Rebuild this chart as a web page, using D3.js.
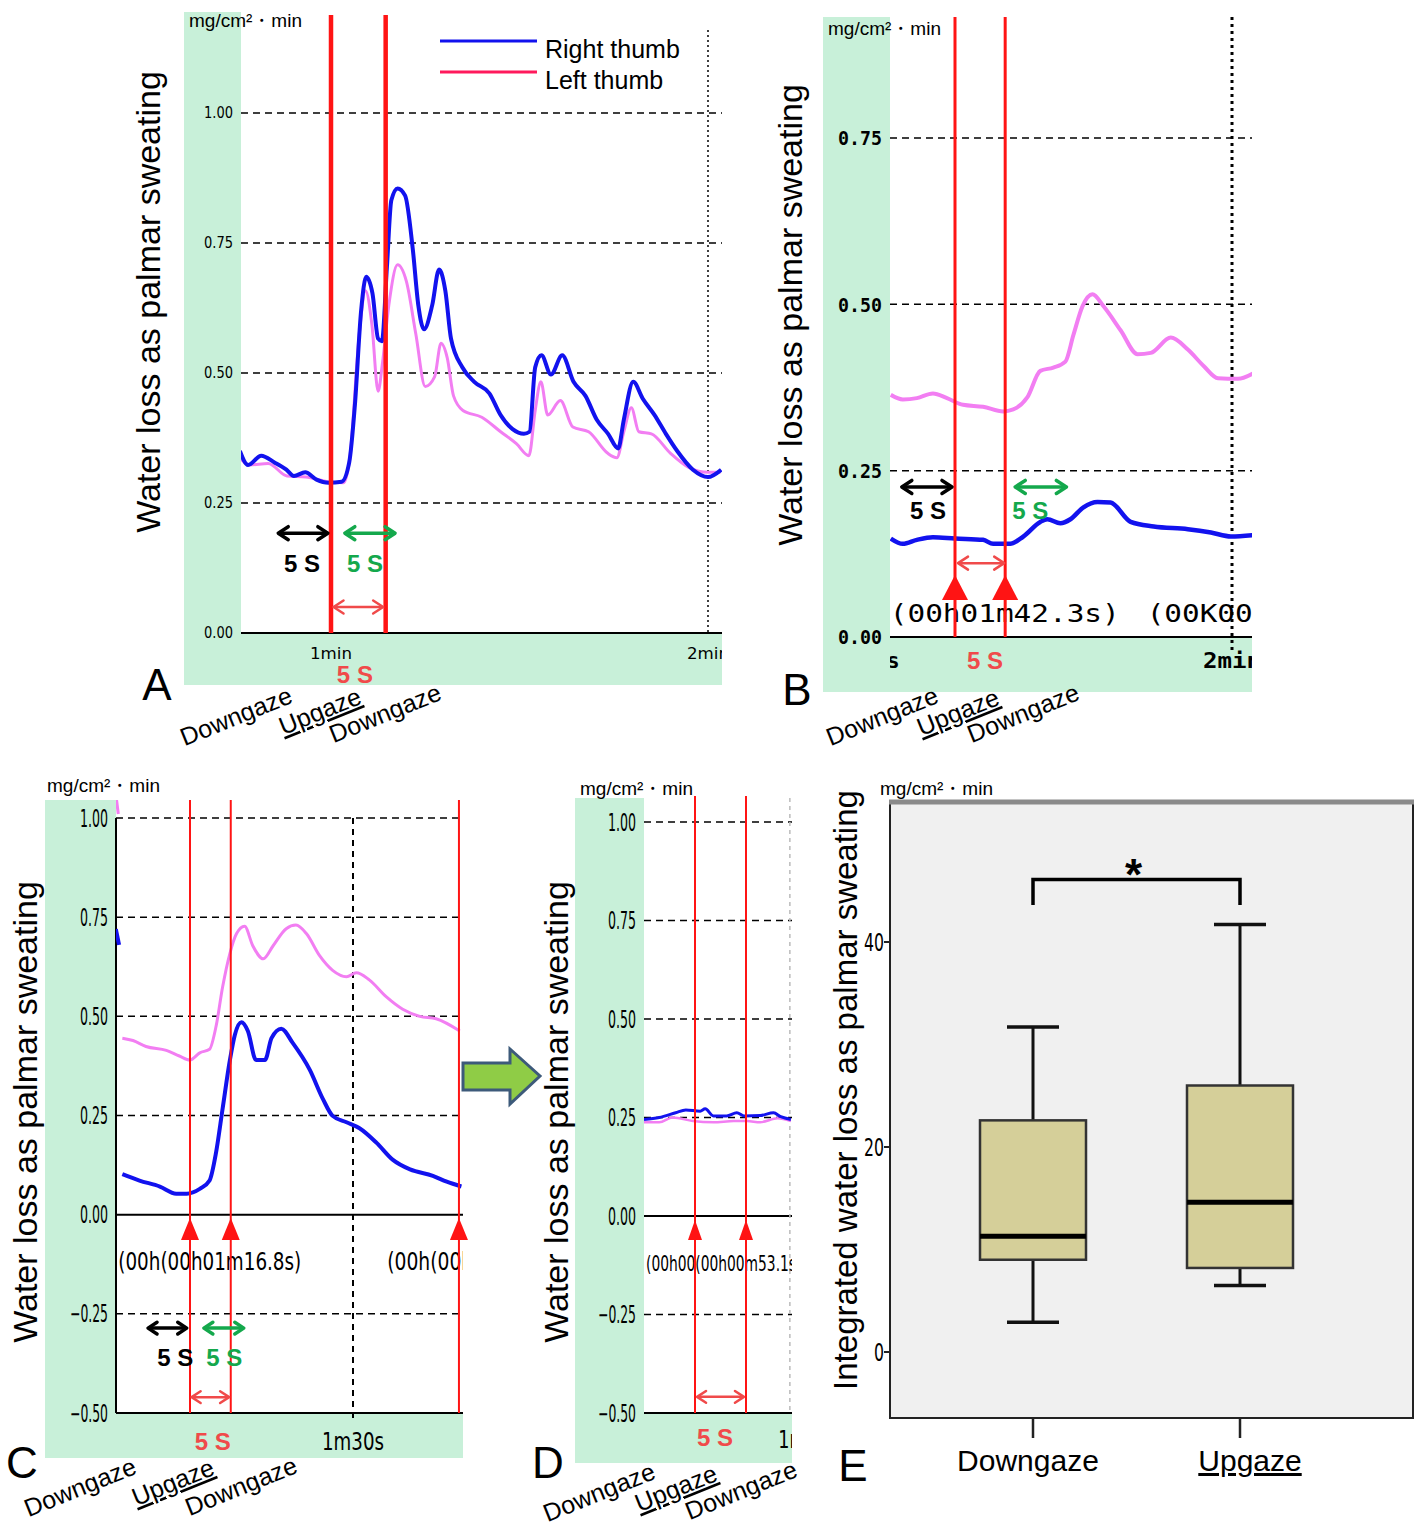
<!DOCTYPE html>
<html lang="en">
<head>
<meta charset="UTF-8">
<title>Palmar sweating: downgaze vs upgaze</title>
<script src="https://d3js.org/d3.v7.min.js"></script>
<style>
  body { margin: 0; background: #fff; }
  svg { display: block; font-family: Arial, "Liberation Sans", sans-serif; }
</style>
</head>
<body>
<svg id="fig" width="1417" height="1527"></svg>
<script>
// ---------- data: time in s, water loss in mg/cm2·min ----------
// panel A
const aRightT = [45.5,46.8,48.9,51.0,52.9,54.1,55.9,57.7,59.6,61.7,62.9,63.8,64.8,65.6,66.6,67.5,68.1,68.9,69.6,70.6,71.8,73.0,73.9,74.8,76.1,77.2,78.2,79.1,80.9,82.8,85.2,87.0,88.9,90.7,91.6,92.5,93.5,95.0,96.8,98.6,100.5,102.3,104.1,105.7,106.6,108.1,109.6,111.5,113.3,115.1,117.6,120.0,122.1];
const aRightV = [0.350,0.323,0.341,0.328,0.314,0.302,0.309,0.295,0.289,0.291,0.328,0.438,0.621,0.685,0.653,0.566,0.561,0.704,0.832,0.855,0.841,0.740,0.630,0.584,0.630,0.699,0.658,0.566,0.511,0.483,0.461,0.419,0.392,0.383,0.387,0.511,0.534,0.497,0.534,0.483,0.456,0.410,0.383,0.355,0.410,0.483,0.451,0.419,0.383,0.350,0.314,0.300,0.314];
const aLeftT = [45.5,47.0,50.0,53.0,56.0,59.6,62.0,63.0,64.5,65.5,66.5,67.5,68.2,69.2,70.6,72.0,73.5,75.0,76.5,77.5,78.5,79.5,81.0,84.0,87.0,89.5,91.5,92.5,93.4,94.5,96.5,98.5,101.0,104.0,105.5,106.6,107.8,109.0,111.0,114.0,117.0,120.0,122.0];
const aLeftV = [0.337,0.323,0.326,0.302,0.300,0.291,0.289,0.337,0.575,0.658,0.594,0.465,0.520,0.630,0.708,0.676,0.575,0.474,0.493,0.557,0.529,0.456,0.428,0.415,0.387,0.364,0.341,0.428,0.483,0.419,0.447,0.396,0.387,0.346,0.337,0.387,0.433,0.387,0.383,0.346,0.318,0.309,0.309];
const aTicks = [0, 0.25, 0.5, 0.75, 1.0];
const aMarks = [60, 68.7];

// panel B
const bRightT = [86.0,87.2,88.6,90.2,92.4,95.2,96.2,97.9,99.2,100.9,101.6,102.9,103.9,105.2,106.6,107.9,109.9,112.2,115.6,117.9,119.9,122.1];
const bRightV = [0.148,0.140,0.146,0.150,0.148,0.146,0.140,0.140,0.151,0.173,0.177,0.171,0.177,0.195,0.203,0.202,0.173,0.166,0.162,0.157,0.151,0.153];
const bLeftT = [86.0,87.2,88.6,90.2,91.6,93.2,95.2,97.2,98.2,99.6,100.9,102.2,103.4,104.2,105.1,106.1,107.2,108.9,110.6,111.9,113.9,115.6,117.2,118.6,120.6,122.1];
const bLeftV = [0.364,0.357,0.359,0.366,0.359,0.349,0.346,0.339,0.342,0.360,0.400,0.405,0.414,0.454,0.497,0.515,0.497,0.461,0.425,0.427,0.450,0.432,0.407,0.389,0.388,0.396];
const bTicks = [0, 0.25, 0.5, 0.75];
const bMarks = [92.4, 97.4];

// panel C
const cRightT = [61.7,63.8,66.3,68.3,69.6,71.2,72.4,73.2,74.0,74.9,75.5,76.3,77.1,78.1,79.2,80.0,81.2,82.6,84.7,86.3,87.5,89.2,90.8,92.9,94.9,97.0,99.8,101.5,103.3];
const cRightV = [0.102,0.086,0.071,0.053,0.053,0.065,0.086,0.157,0.267,0.390,0.453,0.485,0.463,0.390,0.390,0.445,0.469,0.433,0.365,0.292,0.249,0.233,0.218,0.181,0.138,0.114,0.098,0.083,0.071];
const cLeftT = [61.7,63.0,64.6,67.1,68.7,70.0,71.2,72.4,73.2,74.0,74.9,75.7,76.7,77.7,79.0,80.2,81.8,83.0,84.3,85.9,87.5,89.2,90.4,92.0,94.1,96.1,98.2,100.2,103.1];
const cLeftV = [0.445,0.439,0.424,0.414,0.400,0.390,0.408,0.417,0.475,0.574,0.659,0.708,0.727,0.678,0.645,0.678,0.721,0.730,0.708,0.653,0.616,0.600,0.610,0.592,0.549,0.518,0.500,0.494,0.463];
const cRightStubT = [60.9, 61.3];
const cRightStubV = [0.72, 0.68];
const cLeftStubT = [60.9, 61.2];
const cLeftStubV = [1.06, 1.01];
const cTicks = [-0.5, -0.25, 0, 0.25, 0.5, 0.75, 1.0];
const cMarks = [70, 75, 103];

// panel D
const dRightT = [43.1,44.6,46.2,47.2,48.6,49.1,49.9,51.2,52.2,52.9,54.5,55.8,56.5,57.5];
const dRightV = [0.245,0.250,0.262,0.269,0.266,0.272,0.254,0.254,0.262,0.254,0.255,0.262,0.252,0.245];
const dLeftT = [43.1,44.6,45.9,47.9,49.9,51.9,53.2,54.5,56.2,57.5];
const dLeftV = [0.238,0.238,0.250,0.241,0.238,0.241,0.241,0.238,0.248,0.241];
const dMarks = [48.1, 53.1];

// panel E (box plot)
const eCats = ["Downgaze", "Upgaze"];
const eLow = [2.9, 6.5];
const eQ1 = [9.0, 8.2];
const eMed = [11.3, 14.6];
const eQ3 = [22.6, 26.0];
const eHigh = [31.7, 41.7];
const eTicks = [0, 20, 40];

// ---------- colours ----------
const GREEN = "#c8f0d9";
const BLUE = "#1212ee";
const PINK = "#f27ef2";
const RED = "#ff1414";
const ARED = "#f04a4a";
const AGREEN = "#14a84c";

const svg = d3.select("#fig");
const defs = svg.append("defs");

function rectClip(id, x0, y0, x1, y1) {
  defs.append("clipPath").attr("id", id).append("rect")
    .attr("x", x0).attr("y", y0).attr("width", x1 - x0).attr("height", y1 - y0);
  return `url(#${id})`;
}

function dblArrow(g, x0, x1, yy, color, sw, head) {
  g.append("line").attr("x1", x0 + 1).attr("x2", x1 - 1).attr("y1", yy).attr("y2", yy)
    .attr("stroke", color).attr("stroke-width", sw);
  g.append("path")
    .attr("d", `M${x0 + head},${yy - head * 0.65}L${x0},${yy}L${x0 + head},${yy + head * 0.65}` +
               `M${x1 - head},${yy - head * 0.65}L${x1},${yy}L${x1 - head},${yy + head * 0.65}`)
    .attr("fill", "none").attr("stroke", color).attr("stroke-width", sw)
    .attr("stroke-linecap", "round").attr("stroke-linejoin", "round");
}

// unit label "mg/cm²・min"
function unitLabel(g, x, y) {
  g.append("text").attr("x", x).attr("y", y).attr("font-size", 19).text("mg/cm²・min");
}

function tracePanel(p) {
  const { x, y, plot, bg } = p;
  const g = svg.append("g");

  g.append("rect").attr("x", bg.x0).attr("y", bg.y0)
    .attr("width", bg.x1 - bg.x0).attr("height", bg.y1 - bg.y0).attr("fill", GREEN);
  g.append("rect").attr("x", plot.x0).attr("y", bg.y0)
    .attr("width", plot.x1 - plot.x0).attr("height", plot.y1 - bg.y0).attr("fill", "#fff");

  const clipPlot = rectClip("cp" + p.id, plot.x0, bg.y0, plot.x1, plot.y1);
  const clipText = rectClip("ct" + p.id, plot.x0, bg.y0, plot.x1, bg.y1);

  // horizontal grid
  g.append("g").selectAll("line").data(p.yTicks).join("line")
    .attr("x1", plot.x0).attr("x2", plot.x1)
    .attr("y1", d => y(d)).attr("y2", d => y(d))
    .attr("stroke", "#000")
    .attr("stroke-width", d => p.solidY.includes(d) ? 2 : 1.5)
    .attr("stroke-dasharray", d => p.solidY.includes(d) ? null : "7,5");

  if (p.yAxisLine) {
    g.append("line").attr("x1", plot.x0).attr("x2", plot.x0)
      .attr("y1", y(y.domain()[1])).attr("y2", plot.y1)
      .attr("stroke", "#000").attr("stroke-width", 2);
  }

  // vertical time grid
  g.append("g").selectAll("line").data(p.vGrid).join("line")
    .attr("x1", d => x(d)).attr("x2", d => x(d))
    .attr("y1", p.vGridY[0]).attr("y2", p.vGridY[1])
    .attr("stroke", p.vGridColor || "#000")
    .attr("stroke-width", p.vGridW)
    .attr("stroke-dasharray", p.vGridDash);

  // y tick labels
  g.append("g").selectAll("text").data(p.yTicks).join("text")
    .attr("x", plot.x0 - p.tickPad).attr("y", d => y(d)).attr("dy", "0.36em")
    .attr("text-anchor", "end")
    .attr("font-family", p.tickFont).attr("font-size", p.tickSize)
    .attr("font-weight", p.tickWeight || "normal")
    .attr("textLength", d => p.tickLen(d)).attr("lengthAdjust", "spacingAndGlyphs")
    .text(d3.format(".2f"));

  // x tick labels (clipped like the recorder screen)
  g.append("g").attr("clip-path", clipText).selectAll("text").data(p.xTicks).join("text")
    .attr("x", d => x(d.t)).attr("y", p.xTickY)
    .attr("text-anchor", "middle")
    .attr("font-family", p.xTickFont).attr("font-size", p.xTickSize)
    .attr("font-weight", p.xTickWeight || "normal")
    .attr("textLength", d => d.len).attr("lengthAdjust", "spacingAndGlyphs")
    .text(d => d.label);

  // time stamps
  if (p.stamps) {
    g.append("g").attr("clip-path", clipPlot).selectAll("text").data(p.stamps).join("text")
      .attr("x", d => x(d.t)).attr("y", d => y(d.v))
      .attr("font-family", p.stampFont).attr("font-size", p.stampSize)
      .attr("textLength", d => d.len).attr("lengthAdjust", "spacingAndGlyphs")
      .text(d => d.text);
  }

  // traces
  const line = d3.line().x(d => x(d[0])).y(d => y(d[1])).curve(d3.curveMonotoneX);
  const sg = g.append("g").attr("clip-path", clipPlot);
  p.series.forEach(s => {
    sg.append("path").datum(d3.zip(s.t, s.v)).attr("d", line)
      .attr("fill", "none").attr("stroke", s.color).attr("stroke-width", s.w)
      .attr("stroke-linejoin", "round");
  });

  // event markers
  g.append("g").selectAll("line").data(p.marks).join("line")
    .attr("x1", d => x(d)).attr("x2", d => x(d))
    .attr("y1", p.markTop).attr("y2", plot.y1)
    .attr("stroke", RED).attr("stroke-width", p.markW);

  if (p.tri) {
    g.append("g").selectAll("path").data(p.marks).join("path")
      .attr("d", d => {
        const cx = x(d), yb = y(p.tri.base), h = p.tri.h, w = p.tri.w / 2;
        return `M${cx},${yb - h}L${cx + w},${yb}L${cx - w},${yb}Z`;
      })
      .attr("fill", RED);
  }

  // 5 s arrows
  const ag = g.append("g");
  p.arrows.forEach(a => dblArrow(ag, x(a.t0), x(a.t1), y(a.v), a.color, a.sw, a.head));
  g.append("g").selectAll("text").data(p.fiveS).join("text")
    .attr("x", d => x(d.t)).attr("y", d => y(d.v))
    .attr("text-anchor", "middle")
    .attr("font-size", p.fiveSize).attr("font-weight", "bold")
    .attr("fill", d => d.color)
    .text("5 S");

  // axis title and unit
  g.append("text")
    .attr("transform", `translate(${p.yLabel[0]},${p.yLabel[1]}) rotate(-90)`)
    .attr("text-anchor", "middle").attr("dy", "0.35em")
    .attr("font-size", 34).text("Water loss as palmar sweating");
  unitLabel(g, p.unit[0], p.unit[1]);

  // panel letter
  g.append("text").attr("x", p.letter[0]).attr("y", p.letter[1])
    .attr("text-anchor", "middle").attr("font-size", 44).text(p.id);

  // gaze labels
  g.append("g").selectAll("text").data(p.gaze).join("text")
    .attr("transform", d => `translate(${d.cx},${d.cy}) rotate(-22)`)
    .attr("text-anchor", "middle").attr("dy", "0.35em")
    .attr("font-size", 25)
    .style("text-decoration", d => d.u ? "underline" : null)
    .text(d => d.text);

  return g;
}

// ---------- panel A ----------
const xA = d3.scaleLinear().domain([60, 120]).range([331, 708]);
const yA = d3.scaleLinear().domain([0, 1]).range([633, 113]);
const gA = tracePanel({
  id: "A", x: xA, y: yA,
  plot: { x0: 241, x1: 722, y1: 633 }, bg: { x0: 184, y0: 12, x1: 722, y1: 685 },
  yTicks: aTicks, solidY: [0],
  vGrid: [60, 120], vGridY: [30, 633], vGridW: 1.5, vGridDash: "2,3",
  tickPad: 8, tickFont: "DejaVu Sans Condensed", tickSize: 15, tickLen: () => 29,
  xTicks: [{ t: 60, label: "1min", len: 42 }, { t: 120, label: "2min", len: 42 }],
  xTickY: 659, xTickFont: "DejaVu Sans Condensed", xTickSize: 16,
  series: [
    { t: aLeftT, v: aLeftV, color: PINK, w: 3 },
    { t: aRightT, v: aRightV, color: BLUE, w: 4 }
  ],
  marks: aMarks, markTop: 15, markW: 4.5,
  arrows: [
    { t0: 51.6, t1: 59.5, v: 0.192, color: "#000", sw: 3.5, head: 10 },
    { t0: 62.2, t1: 70.2, v: 0.192, color: AGREEN, sw: 3.5, head: 10 },
    { t0: 60.4, t1: 68.3, v: 0.05, color: ARED, sw: 2.5, head: 10 }
  ],
  fiveS: [
    { t: 55.4, v: 0.117, color: "#000" },
    { t: 65.4, v: 0.117, color: AGREEN },
    { t: 63.8, v: -0.096, color: ARED }
  ],
  fiveSize: 24,
  yLabel: [148, 302], unit: [189, 27], letter: [157, 700],
  gaze: [
    { cx: 236, cy: 716, text: "Downgaze" },
    { cx: 320, cy: 711, text: "Upgaze", u: true },
    { cx: 385, cy: 713, text: "Downgaze" }
  ]
});
// legend
const legA = gA.append("g");
[{ label: "Right thumb", color: BLUE, yy: 41 }, { label: "Left thumb", color: "#ff1a5c", yy: 72 }].forEach(l => {
  legA.append("line").attr("x1", 440).attr("x2", 537).attr("y1", l.yy).attr("y2", l.yy)
    .attr("stroke", l.color).attr("stroke-width", 3);
  legA.append("text").attr("x", 545).attr("y", l.yy + 17).attr("font-size", 25).text(l.label);
});

// ---------- panel B ----------
const xB = d3.scaleLinear().domain([92.4, 120]).range([955, 1232]);
const yB = d3.scaleLinear().domain([0, 0.75]).range([637, 138]);
tracePanel({
  id: "B", x: xB, y: yB,
  plot: { x0: 890, x1: 1252, y1: 637 }, bg: { x0: 823, y0: 17, x1: 1252, y1: 692 },
  yTicks: bTicks, solidY: [0],
  vGrid: [120], vGridY: [17, 652], vGridW: 3, vGridDash: "3,4",
  tickPad: 8, tickFont: "DejaVu Sans Mono", tickSize: 20, tickWeight: "bold", tickLen: () => 44,
  xTicks: [{ t: 83.6, label: "1m30s", len: 66 }, { t: 120, label: "2min", len: 58 }],
  xTickY: 668, xTickFont: "DejaVu Sans Mono", xTickSize: 22, xTickWeight: "bold",
  stamps: [
    { t: 85.9, v: 0.0225, text: "(00h01m42.3s)", len: 230 },
    { t: 111.5, v: 0.0225, text: "(00K00", len: 106 }
  ],
  stampFont: "DejaVu Sans Mono", stampSize: 24,
  series: [
    { t: bLeftT, v: bLeftV, color: PINK, w: 4 },
    { t: bRightT, v: bRightV, color: BLUE, w: 4.5 }
  ],
  marks: bMarks, markTop: 17, markW: 3,
  tri: { base: 0.0556, h: 25, w: 26 },
  arrows: [
    { t0: 87.1, t1: 92.1, v: 0.2255, color: "#000", sw: 3.5, head: 10 },
    { t0: 98.4, t1: 103.5, v: 0.2255, color: AGREEN, sw: 3.5, head: 10 },
    { t0: 92.7, t1: 97.3, v: 0.111, color: ARED, sw: 2.5, head: 10 }
  ],
  fiveS: [
    { t: 89.7, v: 0.177, color: "#000" },
    { t: 99.9, v: 0.177, color: AGREEN },
    { t: 95.4, v: -0.048, color: ARED }
  ],
  fiveSize: 24,
  yLabel: [790, 315], unit: [828, 35], letter: [797, 705],
  gaze: [
    { cx: 882, cy: 716, text: "Downgaze" },
    { cx: 958, cy: 712, text: "Upgaze", u: true },
    { cx: 1023, cy: 713, text: "Downgaze" }
  ]
});

// ---------- panel C ----------
const xC = d3.scaleLinear().domain([70, 90]).range([190, 353]);
const yC = d3.scaleLinear().domain([-0.5, 1]).range([1413, 818]);
tracePanel({
  id: "C", x: xC, y: yC,
  plot: { x0: 116, x1: 463, y1: 1413 }, bg: { x0: 45, y0: 800, x1: 463, y1: 1458 },
  yTicks: cTicks, solidY: [0, -0.5], yAxisLine: true,
  vGrid: [90], vGridY: [818, 1422], vGridW: 2, vGridDash: "6,5",
  tickPad: 8, tickFont: "DejaVu Sans Condensed", tickSize: 24, tickLen: d => d < 0 ? 38 : 28,
  xTicks: [{ t: 90, label: "1m30s", len: 62 }],
  xTickY: 1450, xTickFont: "DejaVu Sans Condensed", xTickSize: 24,
  stamps: [
    { t: 61.2, v: -0.139, text: "(00h(00h01m16.8s)", len: 183 },
    { t: 94.2, v: -0.139, text: "(00h(00h", len: 86 }
  ],
  stampFont: "DejaVu Sans Condensed", stampSize: 25,
  series: [
    { t: cLeftT, v: cLeftV, color: PINK, w: 3 },
    { t: cLeftStubT, v: cLeftStubV, color: PINK, w: 3 },
    { t: cRightT, v: cRightV, color: BLUE, w: 4 },
    { t: cRightStubT, v: cRightStubV, color: BLUE, w: 4 }
  ],
  marks: cMarks, markTop: 800, markW: 2,
  tri: { base: -0.064, h: 22, w: 18 },
  arrows: [
    { t0: 64.85, t1: 69.6, v: -0.286, color: "#000", sw: 3.5, head: 9 },
    { t0: 71.7, t1: 76.6, v: -0.286, color: AGREEN, sw: 3.5, head: 9 },
    { t0: 70.2, t1: 74.8, v: -0.46, color: ARED, sw: 2.5, head: 9 }
  ],
  fiveS: [
    { t: 68.2, v: -0.381, color: "#000" },
    { t: 74.2, v: -0.381, color: AGREEN },
    { t: 72.8, v: -0.593, color: ARED }
  ],
  fiveSize: 24,
  yLabel: [25, 1112], unit: [47, 792], letter: [22, 1478],
  gaze: [
    { cx: 80, cy: 1487, text: "Downgaze" },
    { cx: 173, cy: 1482, text: "Upgaze", u: true },
    { cx: 241, cy: 1486, text: "Downgaze" }
  ]
});

// ---------- panel D ----------
const xD = d3.scaleLinear().domain([48.1, 53.1]).range([695, 746]);
const yD = d3.scaleLinear().domain([-0.5, 1]).range([1413, 822]);
tracePanel({
  id: "D", x: xD, y: yD,
  plot: { x0: 644, x1: 792, y1: 1413 }, bg: { x0: 575, y0: 798, x1: 792, y1: 1463 },
  yTicks: cTicks, solidY: [0, -0.5],
  vGrid: [57.4], vGridY: [798, 1413], vGridW: 1.5, vGridDash: "4,4", vGridColor: "#bbb",
  tickPad: 8, tickFont: "DejaVu Sans Condensed", tickSize: 24, tickLen: d => d < 0 ? 38 : 28,
  xTicks: [{ t: 59.2, label: "1m00s", len: 60 }],
  xTickY: 1448, xTickFont: "DejaVu Sans Condensed", xTickSize: 24,
  stamps: [{ t: 43.3, v: -0.139, text: "(00h00(00h00m53.1s", len: 150 }],
  stampFont: "DejaVu Sans Condensed", stampSize: 22,
  series: [
    { t: dLeftT, v: dLeftV, color: PINK, w: 2.5 },
    { t: dRightT, v: dRightV, color: BLUE, w: 3 }
  ],
  marks: dMarks, markTop: 796, markW: 2,
  tri: { base: -0.061, h: 20, w: 14 },
  arrows: [{ t0: 48.3, t1: 52.9, v: -0.459, color: ARED, sw: 2.5, head: 9 }],
  fiveS: [{ t: 50.06, v: -0.584, color: ARED }],
  fiveSize: 24,
  yLabel: [556, 1112], unit: [580, 795], letter: [548, 1478],
  gaze: [
    { cx: 599, cy: 1492, text: "Downgaze" },
    { cx: 676, cy: 1488, text: "Upgaze", u: true },
    { cx: 741, cy: 1490, text: "Downgaze" }
  ]
});

// block arrow C -> D
svg.append("path")
  .attr("d", "M463,1063L510,1063L510,1049L540,1076L510,1104L510,1090L463,1090Z")
  .attr("fill", "#8fcc46").attr("stroke", "#3d5a7a").attr("stroke-width", 3)
  .attr("stroke-linejoin", "miter");

// ---------- panel E: box plot ----------
const eBox = { x0: 890, x1: 1413, y0: 802, y1: 1418 };
const xE = d3.scalePoint().domain(eCats).range([1033, 1240]);
const yE = d3.scaleLinear().domain([0, 40]).range([1352, 942]);
const gE = svg.append("g");
gE.append("rect").attr("x", eBox.x0).attr("y", eBox.y0)
  .attr("width", eBox.x1 - eBox.x0).attr("height", eBox.y1 - eBox.y0)
  .attr("fill", "#f0f0f0").attr("stroke", "#222").attr("stroke-width", 2);
gE.append("line").attr("x1", eBox.x0 - 1).attr("x2", eBox.x1 + 1)
  .attr("y1", eBox.y0).attr("y2", eBox.y0).attr("stroke", "#8a8a8a").attr("stroke-width", 5);

// y ticks
gE.append("g").selectAll("line").data(eTicks).join("line")
  .attr("x1", eBox.x0 - 6).attr("x2", eBox.x0).attr("y1", d => yE(d)).attr("y2", d => yE(d))
  .attr("stroke", "#222").attr("stroke-width", 2);
gE.append("g").selectAll("text").data(eTicks).join("text")
  .attr("x", eBox.x0 - 6).attr("y", d => yE(d)).attr("dy", "0.36em")
  .attr("text-anchor", "end").attr("font-family", "DejaVu Sans Condensed").attr("font-size", 25)
  .attr("textLength", d => String(d).length * 10).attr("lengthAdjust", "spacingAndGlyphs")
  .text(d => d);

// x ticks
gE.append("g").selectAll("line").data(eCats).join("line")
  .attr("x1", d => xE(d)).attr("x2", d => xE(d)).attr("y1", eBox.y1).attr("y2", eBox.y1 + 20)
  .attr("stroke", "#222").attr("stroke-width", 2.5);
gE.append("g").selectAll("text").data(eCats).join("text")
  .attr("x", (d, i) => xE(d) + (i === 0 ? -5 : 10)).attr("y", 1471)
  .attr("text-anchor", "middle").attr("font-size", 30)
  .style("text-decoration", d => d === "Upgaze" ? "underline" : null)
  .text(d => d);

// whiskers, boxes, medians
const boxW = 106, capW = 52;
const bx = gE.append("g").selectAll("g").data(eCats).join("g");
bx.append("line").attr("x1", d => xE(d)).attr("x2", d => xE(d))
  .attr("y1", (d, i) => yE(eLow[i])).attr("y2", (d, i) => yE(eHigh[i]))
  .attr("stroke", "#111").attr("stroke-width", 3);
bx.append("line").attr("x1", d => xE(d) - capW / 2).attr("x2", d => xE(d) + capW / 2)
  .attr("y1", (d, i) => yE(eHigh[i])).attr("y2", (d, i) => yE(eHigh[i]))
  .attr("stroke", "#111").attr("stroke-width", 3.5);
bx.append("line").attr("x1", d => xE(d) - capW / 2).attr("x2", d => xE(d) + capW / 2)
  .attr("y1", (d, i) => yE(eLow[i])).attr("y2", (d, i) => yE(eLow[i]))
  .attr("stroke", "#111").attr("stroke-width", 3.5);
bx.append("rect").attr("x", d => xE(d) - boxW / 2).attr("width", boxW)
  .attr("y", (d, i) => yE(eQ3[i])).attr("height", (d, i) => yE(eQ1[i]) - yE(eQ3[i]))
  .attr("fill", "#d5cf99").attr("stroke", "#333").attr("stroke-width", 2.5);
bx.append("line").attr("x1", d => xE(d) - boxW / 2).attr("x2", d => xE(d) + boxW / 2)
  .attr("y1", (d, i) => yE(eMed[i])).attr("y2", (d, i) => yE(eMed[i]))
  .attr("stroke", "#000").attr("stroke-width", 5);

// significance bracket
const sigTop = 46.1, sigLeg = 43.6;
gE.append("path")
  .attr("d", `M${xE(eCats[0])},${yE(sigLeg)}V${yE(sigTop)}H${xE(eCats[1])}V${yE(sigLeg)}`)
  .attr("fill", "none").attr("stroke", "#000").attr("stroke-width", 3.5);
gE.append("text").attr("x", (xE(eCats[0]) + xE(eCats[1])) / 2 - 3).attr("y", yE(sigTop) + 11)
  .attr("text-anchor", "middle").attr("font-size", 44).attr("font-weight", "bold").text("*");

gE.append("text")
  .attr("transform", "translate(845,1090) rotate(-90)")
  .attr("text-anchor", "middle").attr("dy", "0.35em")
  .attr("font-size", 33).text("Integrated water loss as palmar sweating");
unitLabel(gE, 880, 795);
gE.append("text").attr("x", 853).attr("y", 1481).attr("text-anchor", "middle")
  .attr("font-size", 44).text("E");
</script>
</body>
</html>
